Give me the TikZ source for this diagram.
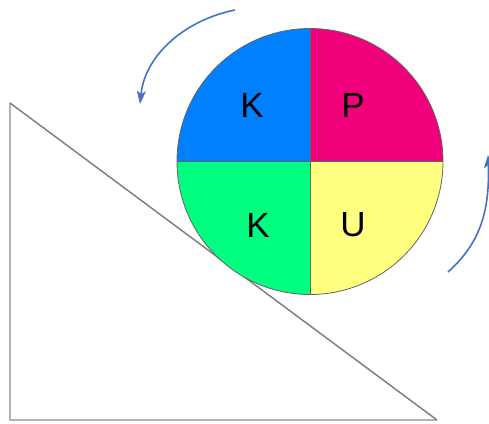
\documentclass[tikz,border=0pt]{standalone}
\usepackage{fontspec}
\setmainfont{Liberation Sans}
\usetikzlibrary{arrows.meta,calc}
\definecolor{qblue}{RGB}{0,128,255}
\definecolor{qpink}{RGB}{240,0,122}
\definecolor{qgreen}{RGB}{0,255,128}
\definecolor{qyellow}{RGB}{255,255,128}
\definecolor{arrowblue}{RGB}{68,114,196}
\definecolor{edgegray}{RGB}{100,100,100}
\begin{document}
\begin{tikzpicture}[x=1pt,y=-1pt,
  letter/.style={font=\fontsize{35}{40}\selectfont, inner sep=0pt},
  quad/.style={draw=edgegray, line width=0.8pt},
  rotarrow/.style={draw=arrowblue, line width=1.6pt, -{Stealth[length=13pt,width=9pt,inset=3pt]}}]
\useasboundingbox (0,0) rectangle (489,423);
\clip (0,0) rectangle (489,423);
% triangle
\coordinate (A) at (10,103);
\coordinate (B) at (10,420);
\coordinate (C) at (437,420);
\draw[color=gray!60, line width=1.2pt] (A) -- (B) -- (C);
\draw[color=gray, line width=1.5pt] (A) -- (C);
% circle (y axis points down, so angles run clockwise on screen)
\coordinate (O) at (310,161.5);
\def\R{133}
\fill[qgreen] (O) -- ++(180:\R) arc[start angle=180,end angle=90,radius=\R] -- cycle;
\fill[qyellow] (O) -- ++(90:\R) arc[start angle=90,end angle=0,radius=\R] -- cycle;
\fill[qpink] (O) -- ++(0:\R) arc[start angle=0,end angle=-90,radius=\R] -- cycle;
\fill[qblue] (O) -- ++(-90:\R) arc[start angle=-90,end angle=-180,radius=\R] -- cycle;
\draw[quad] (O) circle[radius=\R];
\draw[quad] ($(O)+(-\R,0)$) -- ($(O)+(\R,0)$);
\draw[quad] ($(O)+(0,-\R)$) -- ($(O)+(0,\R)$);
% letters
\node[letter] (k1) at (252,105) {K};
\node[letter] (p) at (353,105) {P};
\node[letter] (k2) at (258,225) {K};
\node[letter] (u) at (353,225) {U};
% rotation arrows
\coordinate (s1) at (235,10);
\coordinate (e1) at (140,104);
\draw[rotarrow] (s1) .. controls (185,20) and (145,55) .. (e1);
\coordinate (s2) at (448,272);
\coordinate (e2) at (488,155);
\draw[rotarrow] (s2) .. controls (478,245) and (490,215) .. (e2);
\end{tikzpicture}
\end{document}
